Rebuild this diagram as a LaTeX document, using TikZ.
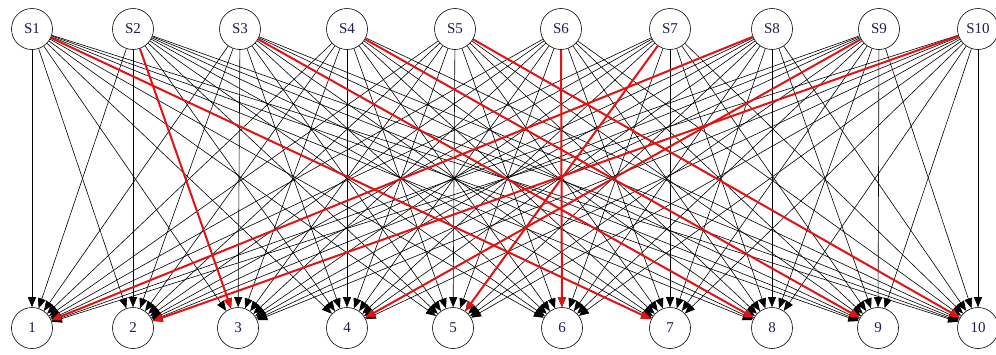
\documentclass[tikz,border=0pt]{standalone}
\usepackage{fontspec}
\setmainfont{Liberation Serif}
\usetikzlibrary{arrows.meta}
\definecolor{labelcol}{RGB}{30,30,80}
\definecolor{hotred}{RGB}{225,20,20}
\begin{document}
\begin{tikzpicture}[x=1pt,y=-1pt,
  vtx/.style={circle,draw=black,line width=0.6pt,fill=white,minimum size=41pt,inner sep=0pt,
    font=\fontsize{15}{15}\selectfont,text=labelcol},
  edge/.style={line width=0.6pt,black,-{Triangle[length=10pt,width=8pt]}},
  hot/.style={line width=2pt,hotred,-{Triangle[length=10pt,width=8pt]}}]
\useasboundingbox[fill=white] (0,0) rectangle (996,354);
% top nodes
\foreach \k/\x in {1/32,2/133,3/240,4/347,5/455,6/561,7/670,8/772,9/879,10/978}
  \node[vtx] (t\k) at (\x,29) {S\k};
% bottom nodes
\foreach \k/\x in {1/32,2/133,3/238,4/347,5/453,6/562,7/670,8/772,9/878,10/978}
  \node[vtx] (b\k) at (\x,328) {\k};
% all black connectors
\foreach \i in {1,...,10}
  \foreach \j in {1,...,10}
    \draw[edge] (t\i) -- (b\j);
% red assignment connectors
\foreach \i/\j in {1/7,2/3,3/8,4/9,5/10,6/6,7/5,8/1,9/4,10/2}
  \draw[hot] (t\i) -- (b\j);
\end{tikzpicture}
\end{document}
